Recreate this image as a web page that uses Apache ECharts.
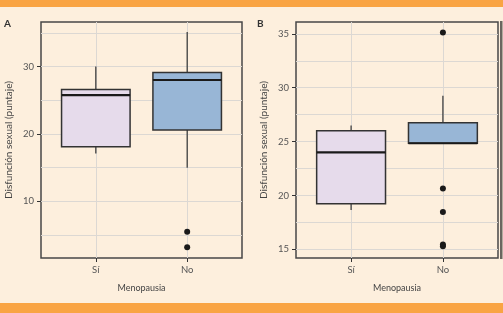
<!DOCTYPE html>
<html>
<head>
<meta charset="utf-8">
<script src="https://cdn.jsdelivr.net/npm/echarts@6/dist/echarts.min.js"></script>
<style>
  html, body { margin: 0; padding: 0; background: #fdefdd; }
  #chart { width: 503px; height: 313px; }
</style>
</head>
<body>
<div id="chart"></div>
<script>
// categories on a numeric x axis (1 = Sí, 2 = No), like ggplot's discrete scale
const categories = ['Sí', 'No'];
const catPos = [1, 2];

// panel A: [min, Q1, median, Q3, max]
const boxesA = [
  [17.1, 18.1, 25.75, 26.6, 30.0],
  [15.0, 20.6, 28.0, 29.1, 35.1]
];
const outliersA = [[2, 5.5], [2, 3.2]];

// panel B
const boxesB = [
  [18.65, 19.23, 24.0, 26.0, 26.5],
  [24.85, 24.85, 24.85, 26.76, 29.26]
];
const outliersB = [[2, 35.13], [2, 20.65], [2, 18.46], [2, 15.46], [2, 15.28]];

const ticksA = [10, 20, 30];
const minorA = [5, 15, 25, 35];
const ticksB = [15, 20, 25, 30, 35];
const minorB = [17.5, 22.5, 27.5, 32.5];

const fillColors = ['#e6dbeb', '#98b6d6'];
const font = 'Lato';
const gridColor = '#dcd8d3';
const frameColor = '#474747';

const chart = echarts.init(document.getElementById('chart'));

function xAxis(gridIndex) {
  return {
    type: 'value', gridIndex: gridIndex, min: 0.4, max: 2.6,
    name: 'Menopausia', nameLocation: 'middle', nameGap: 26,
    nameTextStyle: { fontFamily: font, fontSize: 9, color: '#444' },
    axisLine: { show: false },
    axisTick: { show: true, customValues: catPos, length: 4, lineStyle: { color: '#333' } },
    axisLabel: {
      customValues: catPos, margin: 7, fontFamily: font, fontSize: 9.5, color: '#555',
      formatter: v => categories[catPos.indexOf(v)]
    },
    splitLine: { show: true, lineStyle: { color: gridColor, width: 1 } }
  };
}

function yAxes(gridIndex, min, max, ticks, minor) {
  return [{
    type: 'value', gridIndex: gridIndex, min: min, max: max,
    name: 'Disfunción sexual (puntaje)', nameLocation: 'middle', nameGap: 27,
    nameTextStyle: { fontFamily: font, fontSize: 10, color: '#444' },
    axisLine: { show: false },
    axisTick: { show: true, customValues: ticks, length: 4, lineStyle: { color: '#333' } },
    axisLabel: { customValues: ticks, margin: 7, fontFamily: font, fontSize: 9.5, color: '#555' },
    splitLine: { show: true, lineStyle: { color: gridColor, width: 1 } }
  }, {
    type: 'value', gridIndex: gridIndex, min: min, max: max,
    axisLine: { show: false },
    axisTick: { show: false, customValues: minor },
    axisLabel: { show: false, customValues: minor },
    splitLine: { show: true, lineStyle: { color: gridColor, width: 1 } }
  }];
}

function renderBox(params, api) {
  const x = api.value(0);
  const lo = api.coord([x, api.value(1)]);
  const q1 = api.coord([x, api.value(2)]);
  const med = api.coord([x, api.value(3)]);
  const q3 = api.coord([x, api.value(4)]);
  const hi = api.coord([x, api.value(5)]);
  const half = api.size([0.75, 0])[0] / 2;
  const cx = lo[0];
  const stroke = { stroke: '#333', lineWidth: 1.2 };
  return {
    type: 'group',
    children: [
      { type: 'line', shape: { x1: cx, y1: hi[1], x2: cx, y2: q3[1] }, style: stroke },
      { type: 'line', shape: { x1: cx, y1: q1[1], x2: cx, y2: lo[1] }, style: stroke },
      {
        type: 'rect',
        shape: { x: cx - half, y: q3[1], width: half * 2, height: q1[1] - q3[1] },
        style: { fill: fillColors[params.dataIndex], stroke: '#333', lineWidth: 1.5 }
      },
      { type: 'line', shape: { x1: cx - half, y1: med[1], x2: cx + half, y2: med[1] },
        style: { stroke: '#1a1a1a', lineWidth: 2.2 } }
    ]
  };
}

function boxData(boxes) {
  return boxes.map((b, i) => [catPos[i]].concat(b));
}

const option = {
  backgroundColor: '#fdefdd',
  animation: false,
  grid: [
    { left: 41, top: 22, width: 201, height: 236, show: true, borderColor: frameColor, borderWidth: 1.5 },
    { left: 296, top: 22, width: 202, height: 236, show: true, borderColor: frameColor, borderWidth: 1.5 }
  ],
  xAxis: [xAxis(0), xAxis(1)],
  yAxis: yAxes(0, 1.6, 36.6, ticksA, minorA).concat(yAxes(1, 14.2, 36.1, ticksB, minorB)),
  graphic: [
    { type: 'rect', left: 0, top: 0, shape: { width: 503, height: 7 }, style: { fill: '#f9a443' } },
    { type: 'rect', left: 0, top: 303, shape: { width: 503, height: 10 }, style: { fill: '#f9a443' } },
    { type: 'rect', left: 500, top: 21, shape: { width: 2.5, height: 238 }, style: { fill: '#6b6660' } },
    { type: 'text', left: 4, top: 19, style: { text: 'A', font: 'bold 10px Lato', fill: '#333' } },
    { type: 'text', left: 257, top: 19, style: { text: 'B', font: 'bold 10px Lato', fill: '#333' } }
  ],
  series: [
    { type: 'custom', xAxisIndex: 0, yAxisIndex: 0, renderItem: renderBox, data: boxData(boxesA), z: 3 },
    { type: 'scatter', xAxisIndex: 0, yAxisIndex: 0, data: outliersA, symbolSize: 6,
      itemStyle: { color: '#1a1a1a', opacity: 1 }, z: 4 },
    { type: 'custom', xAxisIndex: 1, yAxisIndex: 2, renderItem: renderBox, data: boxData(boxesB), z: 3 },
    { type: 'scatter', xAxisIndex: 1, yAxisIndex: 2, data: outliersB, symbolSize: 6,
      itemStyle: { color: '#1a1a1a', opacity: 1 }, z: 4 }
  ]
};
chart.setOption(option);
</script>
</body>
</html>
